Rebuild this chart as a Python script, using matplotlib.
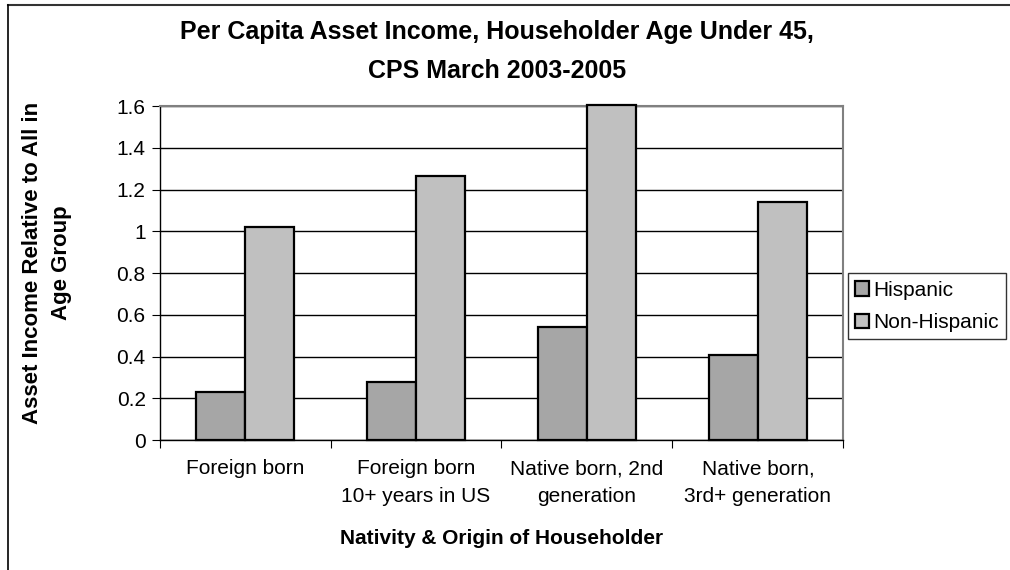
import matplotlib
matplotlib.use("Agg")
import matplotlib.pyplot as plt
import numpy as np
from matplotlib.lines import Line2D

categories = ["Foreign born", "Foreign born\n10+ years in US",
              "Native born, 2nd\ngeneration", "Native born,\n3rd+ generation"]
hispanic = [0.23, 0.28, 0.54, 0.405]
non_hispanic = [1.02, 1.265, 1.605, 1.14]
yticks = [0, 0.2, 0.4, 0.6, 0.8, 1.0, 1.2, 1.4, 1.6]
ytick_labels = ["0", "0.2", "0.4", "0.6", "0.8", "1", "1.2", "1.4", "1.6"]

plt.rcParams["font.family"] = ["Liberation Sans", "DejaVu Sans"]

fig = plt.figure(figsize=(10.1, 5.7), dpi=100)
# outer chart frame: only top and left edges are visible in the picture
fig.lines.append(Line2D([0.008, 1.0], [0.991, 0.991], transform=fig.transFigure,
                        color="#333333", lw=1.5))
fig.lines.append(Line2D([0.008, 0.008], [0.0, 0.991], transform=fig.transFigure,
                        color="black", lw=1.2))
ax = fig.add_axes([0.158, 0.228, 0.677, 0.586])

x = np.arange(len(categories)) + 0.5
w = 0.286
ax.bar(x - w / 2, hispanic, w, color="#a6a6a6", edgecolor="black", lw=1.6,
       label="Hispanic", zorder=3, clip_on=False)
ax.bar(x + w / 2, non_hispanic, w, color="#c0c0c0", edgecolor="black", lw=1.6,
       label="Non-Hispanic", zorder=3, clip_on=False)

ax.set_xlim(0, 4)
ax.set_ylim(0, 1.6)
ax.set_yticks(yticks)
ax.set_yticklabels(ytick_labels, fontsize=15)
ax.set_xticks([0, 1, 2, 3, 4])
ax.set_xticklabels([])
ax.set_xticks(x, minor=True)
ax.set_xticklabels(categories, minor=True, fontsize=15, linespacing=1.6)
ax.tick_params(axis="x", which="minor", length=0, pad=14)
ax.tick_params(axis="x", which="major", length=6, direction="out", color="black")
ax.tick_params(axis="y", length=6, direction="out", color="black", pad=4)
ax.grid(axis="y", color="black", lw=1.0, zorder=1)

for s in ("top", "right"):
    ax.spines[s].set_color("#808080")
    ax.spines[s].set_linewidth(1.5)
for s in ("left", "bottom"):
    ax.spines[s].set_color("black")
    ax.spines[s].set_linewidth(1.0)

fig.text(0.492, 1 - 32 / 570, "Per Capita Asset Income, Householder Age Under 45,",
         ha="center", va="center", fontsize=18, fontweight="bold")
fig.text(0.492, 1 - 71 / 570, "CPS March 2003-2005",
         ha="center", va="center", fontsize=18, fontweight="bold")
ax.set_xlabel("Nativity & Origin of Householder", fontsize=15, fontweight="bold",
              labelpad=16)
ax.set_ylabel("Asset Income Relative to All in\nAge Group", fontsize=16,
              fontweight="bold", linespacing=1.5)
ax.yaxis.set_label_coords(-0.128, 0.53)

leg = ax.legend(loc="center left", bbox_to_anchor=(1.0, 0.4), fontsize=15,
                frameon=True, fancybox=False, edgecolor="black", borderpad=0.35,
                handlelength=0.7, handleheight=0.7, handletextpad=0.2,
                labelspacing=0.65, borderaxespad=0.2)
leg.get_frame().set_linewidth(1.0)

fig.savefig("out.png", dpi=100)
